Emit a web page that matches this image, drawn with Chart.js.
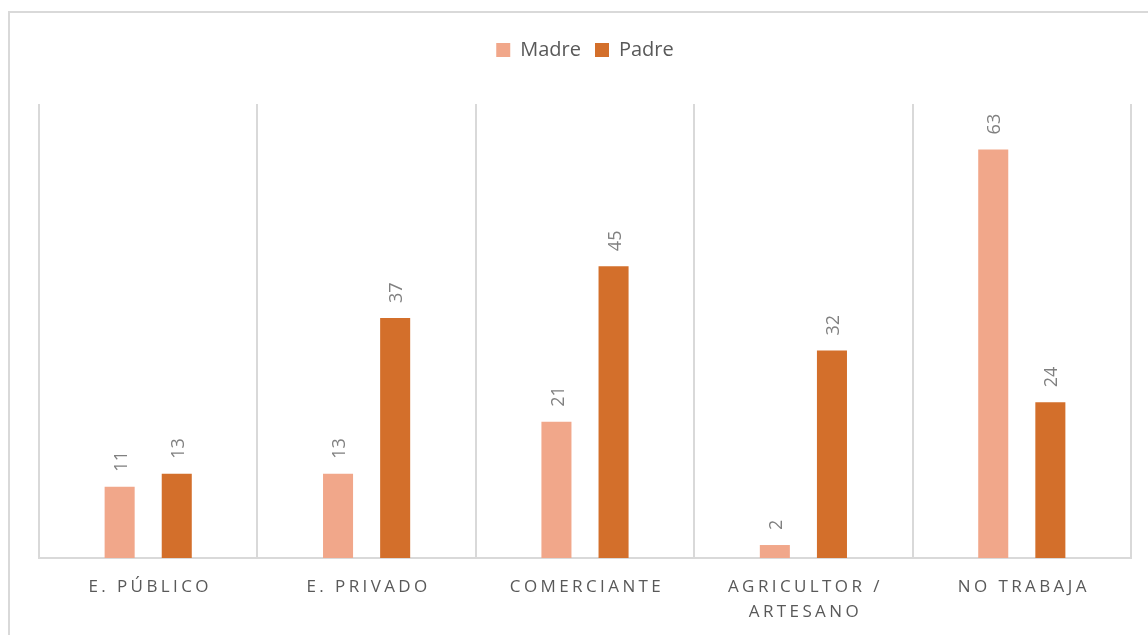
<!DOCTYPE html>
<html>
<head>
<meta charset="utf-8">
<script src="https://cdn.jsdelivr.net/npm/chart.js@4"></script>
<style>
    body { margin: 0; background: #fff; }
    #frame {
        position: absolute; left: 8px; top: 11px; width: 1160px; height: 640px;
        border: 2px solid #d9d9d9; box-sizing: border-box;
    }
    #wrap { position: absolute; left: 0; top: 0; width: 1148px; height: 635px; }
</style>
</head>
<body>
<div id="frame"></div>
<div id="wrap"><canvas id="occupation-chart"></canvas></div>
<script>
// Categories and values
const categories = ['E. PÚBLICO', 'E. PRIVADO', 'COMERCIANTE', ['AGRICULTOR /', 'ARTESANO'], 'NO TRABAJA'];
const madre = [11, 13, 21, 2, 63];
const padre = [13, 37, 45, 32, 24];
const seriesNames = ['Madre', 'Padre'];

const textColor = '#595959';
const fontFamily = '"Open Sans", sans-serif';

// Draws the values rotated above each bar
const barLabels = {
    id: 'barLabels',
    afterDatasetsDraw(chart) {
        const ctx = chart.ctx;
        ctx.save();
        ctx.font = '18px ' + fontFamily;
        ctx.fillStyle = '#808080';
        ctx.textAlign = 'left';
        ctx.textBaseline = 'middle';
        chart.data.datasets.forEach((ds, i) => {
            chart.getDatasetMeta(i).data.forEach((bar, j) => {
                ctx.save();
                ctx.translate(bar.x + 2, bar.y - 15);
                ctx.rotate(-Math.PI / 2);
                ctx.fillText(ds.data[j], 0, 0);
                ctx.restore();
            });
        });
        ctx.restore();
    }
};

// Category labels with letter spacing, placed by the x scale
const spacedTicks = {
    id: 'spacedTicks',
    afterDraw(chart) {
        const ctx = chart.ctx;
        const xScale = chart.scales.x;
        ctx.save();
        ctx.font = '17px ' + fontFamily;
        ctx.fillStyle = textColor;
        ctx.textAlign = 'center';
        ctx.textBaseline = 'middle';
        ctx.letterSpacing = '3.4px';
        categories.forEach((label, i) => {
            const lines = Array.isArray(label) ? label : [label];
            const x = xScale.getPixelForValue(i) + 2;
            lines.forEach((line, k) => {
                ctx.fillText(line, x, chart.chartArea.bottom + 29 + k * 25);
            });
        });
        ctx.restore();
    }
};

// Extra room between the legend and the plot
const legendGap = {
    id: 'legendGap',
    beforeInit(chart) {
        const fit = chart.legend.fit;
        chart.legend.fit = function () {
            fit.bind(chart.legend)();
            this.height += 34;
        };
    }
};

const ctx = document.getElementById('occupation-chart').getContext('2d');
new Chart(ctx, {
    type: 'bar',
    data: {
        labels: categories,
        datasets: [
            { label: seriesNames[0], data: madre, backgroundColor: '#F1A78A' },
            { label: seriesNames[1], data: padre, backgroundColor: '#D36F2B' }
        ]
    },
    options: {
        responsive: true,
        maintainAspectRatio: false,
        animation: false,
        categoryPercentage: 0.523,
        barPercentage: 0.526,
        layout: { padding: { left: 39, right: 17, top: 26, bottom: 77 } },
        plugins: {
            legend: {
                position: 'top',
                labels: {
                    boxWidth: 14,
                    boxHeight: 14,
                    padding: 14,
                    color: textColor,
                    font: { family: fontFamily, size: 20 }
                }
            },
            tooltip: { enabled: false }
        },
        scales: {
            x: {
                grid: { color: '#d9d9d9', lineWidth: 2, drawTicks: false },
                border: { color: '#d9d9d9', width: 2 },
                ticks: { display: false }
            },
            y: {
                display: false,
                min: 0,
                max: 70
            }
        }
    },
    plugins: [legendGap, barLabels, spacedTicks]
});
</script>
</body>
</html>
